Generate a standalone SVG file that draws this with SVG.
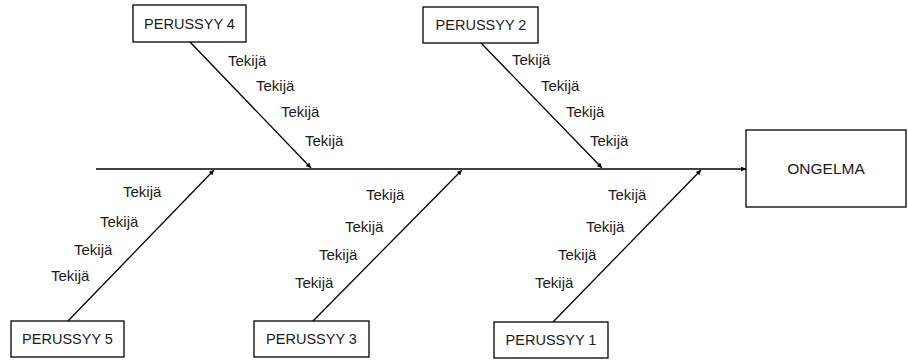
<svg xmlns="http://www.w3.org/2000/svg" width="908" height="361" viewBox="0 0 908 361">
  <style>
    .box { fill: #ffffff; stroke: #000000; stroke-width: 1.3; }
    .lbl { font-family: "Liberation Sans", Arial, sans-serif; font-size: 14.5px; fill: #1a1a1a; }
    .fac { font-size: 15px; }
    .big { font-size: 15.5px; }
    .mid { text-anchor: middle; }
    .line { stroke: #000000; stroke-width: 1.3; fill: none; marker-end: url(#arrow); }
  </style>
  <defs>
    <marker id="arrow" viewBox="0 0 10 10" refX="10" refY="5" markerWidth="5" markerHeight="5" markerUnits="userSpaceOnUse" orient="auto">
      <path d="M0,0 L10,5 L0,10 z" fill="#000000"/>
    </marker>
  </defs>

  <!-- connectors: spine and the five cause branches -->
  <g id="connectors">
    <line class="line" x1="96" y1="169" x2="746" y2="169"/>
    <line class="line" x1="190" y1="42" x2="311" y2="168"/>
    <line class="line" x1="481" y1="43" x2="602" y2="168"/>
    <line class="line" x1="68" y1="321" x2="214" y2="170"/>
    <line class="line" x1="313" y1="321" x2="462" y2="170"/>
    <line class="line" x1="553" y1="322" x2="701" y2="170"/>
  </g>

  <g id="problem">
    <rect class="box" x="746" y="130" width="160" height="77"/>
    <text class="lbl big mid" x="826" y="174">ONGELMA</text>
  </g>

  <g id="cause4">
    <rect class="box" x="133" y="5" width="113" height="37"/>
    <text class="lbl mid" x="189.5" y="29">PERUSSYY 4</text>
    <text class="lbl fac" x="228" y="66">Tekijä</text>
    <text class="lbl fac" x="256" y="91">Tekijä</text>
    <text class="lbl fac" x="281" y="117">Tekijä</text>
    <text class="lbl fac" x="305" y="146">Tekijä</text>
  </g>

  <g id="cause2">
    <rect class="box" x="423" y="7" width="115" height="36"/>
    <text class="lbl mid" x="481" y="30">PERUSSYY 2</text>
    <text class="lbl fac" x="512" y="65">Tekijä</text>
    <text class="lbl fac" x="541" y="91">Tekijä</text>
    <text class="lbl fac" x="566" y="117">Tekijä</text>
    <text class="lbl fac" x="590" y="146">Tekijä</text>
  </g>

  <g id="cause5">
    <rect class="box" x="11" y="321" width="113" height="36"/>
    <text class="lbl mid" x="67.5" y="344">PERUSSYY 5</text>
    <text class="lbl fac" x="123" y="197">Tekijä</text>
    <text class="lbl fac" x="100" y="227">Tekijä</text>
    <text class="lbl fac" x="74" y="255">Tekijä</text>
    <text class="lbl fac" x="51" y="281">Tekijä</text>
  </g>

  <g id="cause3">
    <rect class="box" x="254" y="321" width="115" height="36"/>
    <text class="lbl mid" x="311.5" y="344">PERUSSYY 3</text>
    <text class="lbl fac" x="366" y="200">Tekijä</text>
    <text class="lbl fac" x="345" y="232">Tekijä</text>
    <text class="lbl fac" x="319" y="260">Tekijä</text>
    <text class="lbl fac" x="295" y="288">Tekijä</text>
  </g>

  <g id="cause1">
    <rect class="box" x="494" y="322" width="114" height="36"/>
    <text class="lbl mid" x="551" y="345">PERUSSYY 1</text>
    <text class="lbl fac" x="608" y="200">Tekijä</text>
    <text class="lbl fac" x="586" y="232">Tekijä</text>
    <text class="lbl fac" x="558" y="260">Tekijä</text>
    <text class="lbl fac" x="535" y="288">Tekijä</text>
  </g>
</svg>
